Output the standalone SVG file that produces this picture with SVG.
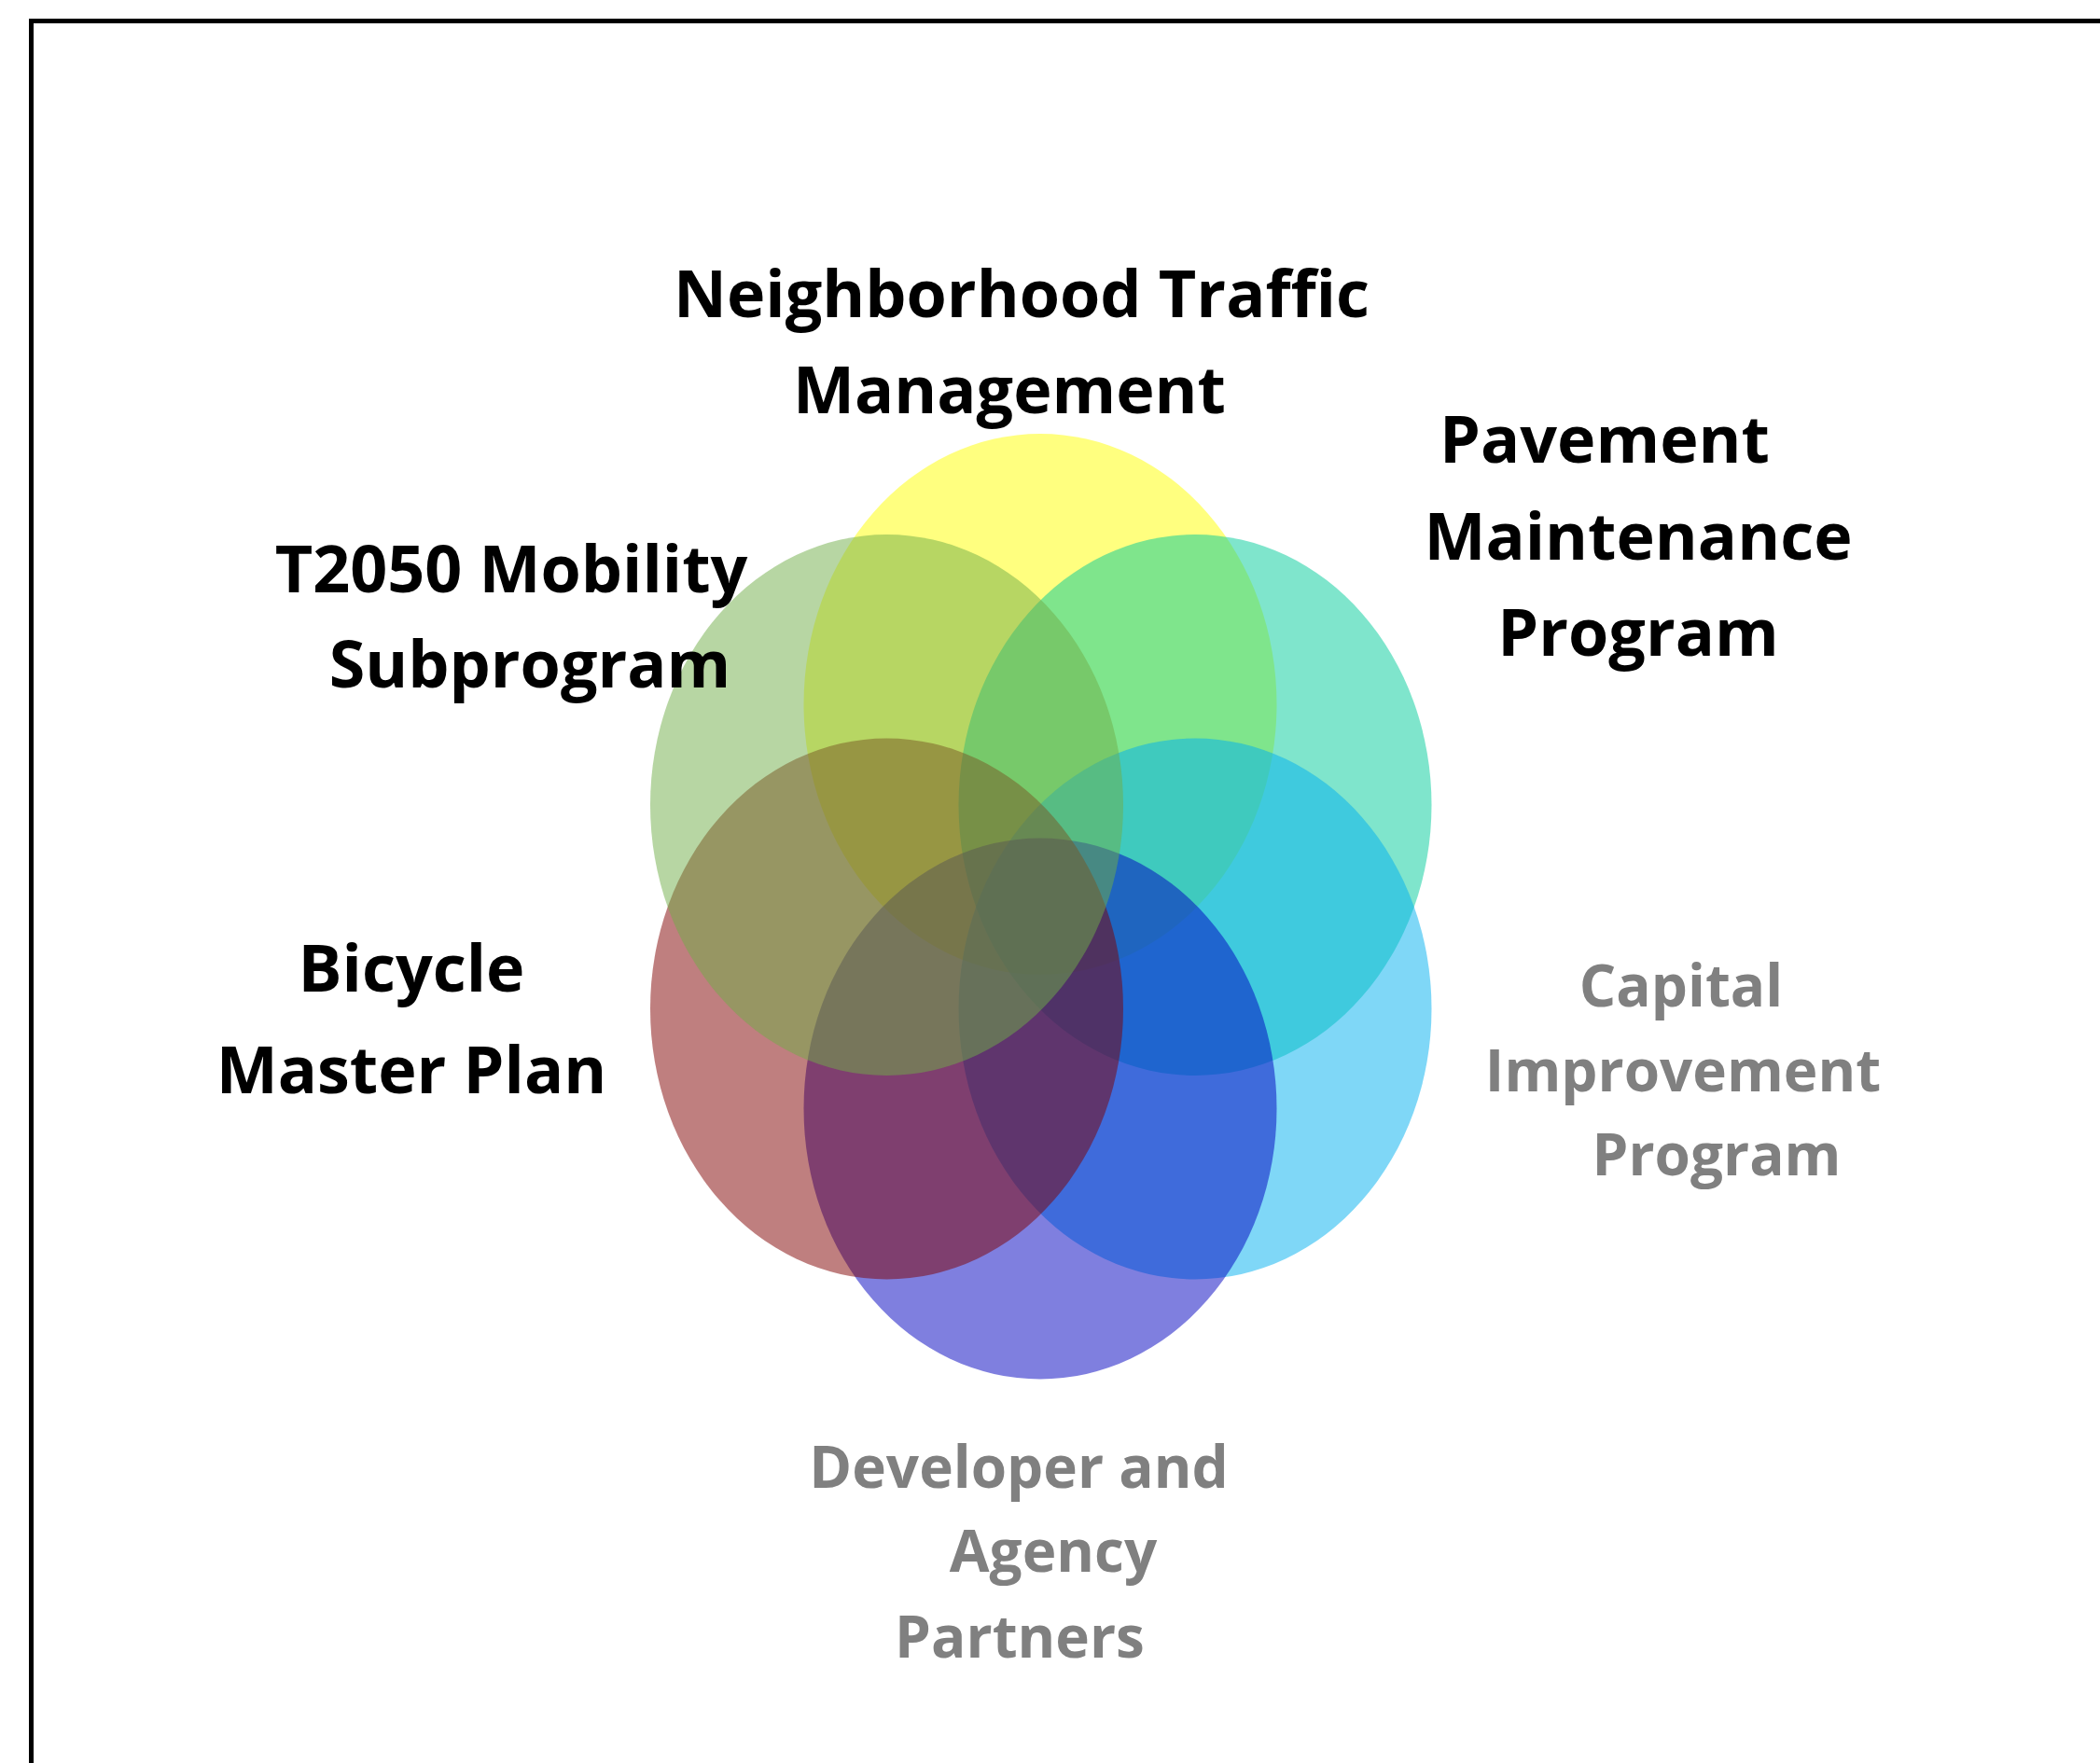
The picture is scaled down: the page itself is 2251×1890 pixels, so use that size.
<svg xmlns="http://www.w3.org/2000/svg" width="2251" height="1890" viewBox="0 0 2251 1890">
<style>
.c{opacity:0.5}
.lb{font-family:"Open Sans","Liberation Sans",sans-serif;font-weight:700;font-size:70px;fill:#000;text-anchor:middle}
.lg{font-family:"Open Sans","Liberation Sans",sans-serif;font-weight:700;font-size:62px;fill:#808080;text-anchor:middle}
</style>
<rect x="0" y="0" width="2251" height="1890" fill="#fff"/>
<rect x="33.5" y="22.5" width="2400" height="2000" fill="none" stroke="#000" stroke-width="5"/>
<g id="connectors"/>
<g id="neighborhood-traffic">
<ellipse class="c" cx="1115" cy="755" rx="253.5" ry="290" fill="#FFFF00"/>
<text class="lb" x="1095" y="340">Neighborhood Traffic</text>
<text class="lb" x="1082" y="443">Management</text>
</g>
<g id="pavement-maintenance">
<ellipse class="c" cx="1281" cy="863" rx="253.5" ry="290" fill="#00CC99"/>
<text class="lb" x="1720" y="496">Pavement</text>
<text class="lb" x="1756" y="600">Maintenance</text>
<text class="lb" x="1756" y="703">Program</text>
</g>
<g id="capital-improvement">
<ellipse class="c" cx="1281" cy="1081.5" rx="253.5" ry="290" fill="#00B0F0"/>
<text class="lg" x="1802" y="1079">Capital</text>
<text class="lg" x="1804" y="1170">Improvement</text>
<text class="lg" x="1840" y="1260">Program</text>
</g>
<g id="developer-agency">
<ellipse class="c" cx="1115" cy="1188.5" rx="253.5" ry="290" fill="#0000C0"/>
<text class="lg" x="1092" y="1595">Developer and</text>
<text class="lg" x="1129" y="1685">Agency</text>
<text class="lg" x="1093" y="1777">Partners</text>
</g>
<g id="bicycle-master-plan">
<ellipse class="c" cx="950.5" cy="1081.5" rx="253.5" ry="290" fill="#800000"/>
<text class="lb" x="441" y="1063">Bicycle</text>
<text class="lb" x="441" y="1172">Master Plan</text>
</g>
<g id="t2050-mobility">
<ellipse class="c" cx="950.5" cy="863" rx="253.5" ry="290" fill="#70AD47"/>
<text class="lb" x="548" y="635">T2050 Mobility</text>
<text class="lb" x="568" y="737">Subprogram</text>
</g>
</svg>
